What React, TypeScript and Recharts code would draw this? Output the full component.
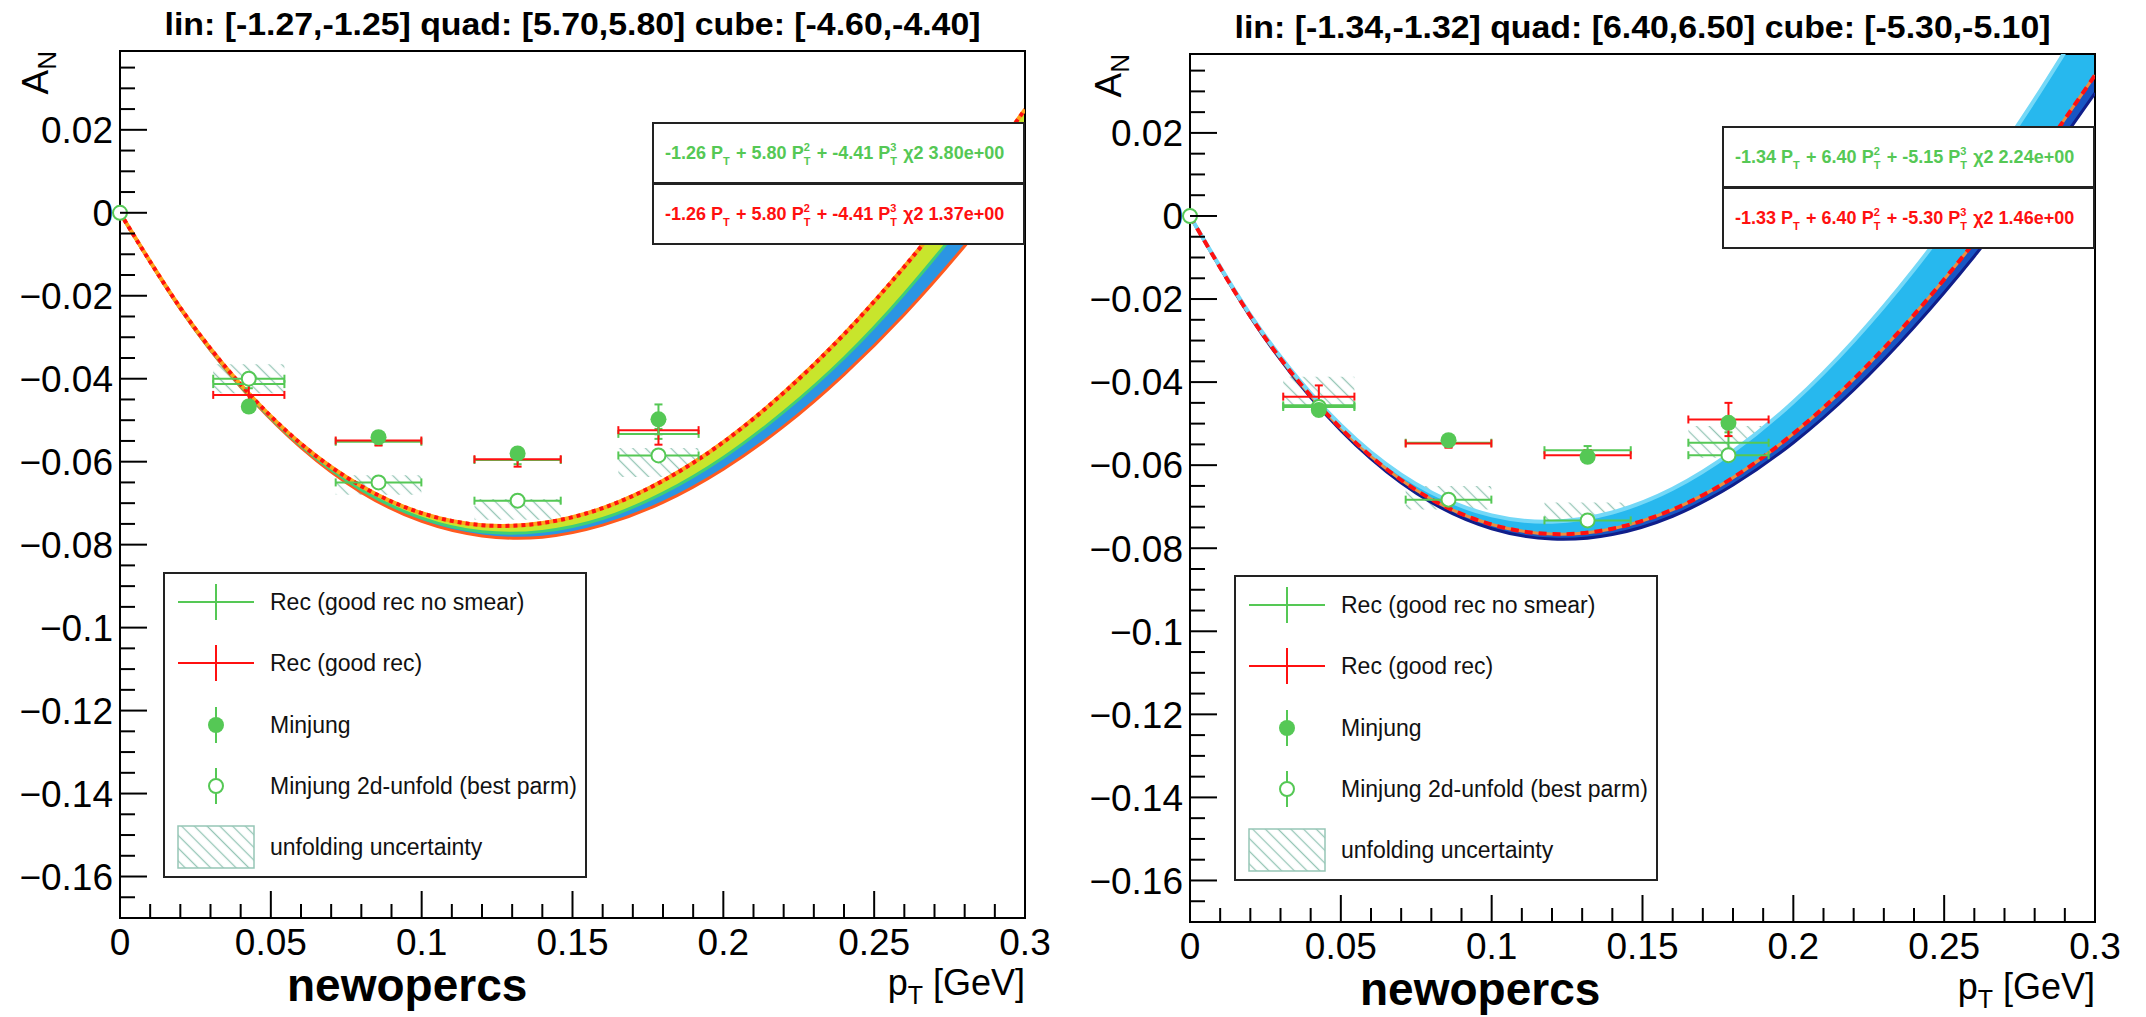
import React from 'react';
import {
  ComposedChart,
  Line,
  Area,
  Scatter,
  ErrorBar,
  XAxis,
  YAxis,
  ReferenceArea,
} from 'recharts';

const FONT = '"Liberation Sans", Arial, Helvetica, sans-serif';
const GREEN = '#55c855';
const RED = '#ff1010';
const HATCH = '#96c6b6';
const PAD_W = 1073;
const PAD_H = 1017;

const curveX = [0, 0.02, 0.04, 0.06, 0.08, 0.1, 0.12, 0.14, 0.16, 0.18, 0.2, 0.22, 0.24, 0.26, 0.28, 0.3];

// left pad: red fit (top of the band), colour split, lower edge
const fitLeft = [0, -0.0229, -0.0414, -0.0557, -0.0659, -0.0724, -0.0753, -0.0748, -0.0712, -0.0646, -0.0553, -0.0434, -0.0293, -0.013, 0.0051, 0.0249];
const splitLeft = [0, -0.0231, -0.0418, -0.0562, -0.0668, -0.0736, -0.0769, -0.0768, -0.0737, -0.0676, -0.059, -0.048, -0.035, -0.0195, -0.002, 0.016];
const lowLeft = [0, -0.0232, -0.042, -0.0566, -0.0674, -0.0744, -0.0779, -0.0782, -0.0753, -0.0698, -0.0618, -0.0515, -0.039, -0.0245, -0.008, 0.01];

// right pad: upper edge, red fit, lower edge
const highRight = [0, -0.0238, -0.0427, -0.0569, -0.0666, -0.0721, -0.0736, -0.0714, -0.0657, -0.0567, -0.0448, -0.0301, -0.0129, 0.0066, 0.028, 0.0513];
const fitRight = [0, -0.0241, -0.0433, -0.0579, -0.0682, -0.0743, -0.0766, -0.0753, -0.0707, -0.063, -0.0524, -0.0393, -0.0238, -0.0063, 0.013, 0.0339];
const lowRight = [0, -0.0243, -0.0437, -0.0585, -0.069, -0.0753, -0.0778, -0.0767, -0.0723, -0.0648, -0.0546, -0.0419, -0.0268, -0.0097, 0.0092, 0.0296];

// pT bins
const binX = [0.0427, 0.0857, 0.1318, 0.1785];
const binXErr = [0.0118, 0.0142, 0.0143, 0.0133];

// left pad points
const recNoSmearLeft = [-0.0413, -0.0552, -0.0596, -0.0533];
const recNoSmearErrLeft = [0.001, 0.0008, 0.001, 0.0012];
const recLeft = [-0.0439, -0.0549, -0.0594, -0.0524];
const recErrLeft = [0.0027, 0.0012, 0.0018, 0.0035];
const minjungLeft = [-0.0467, -0.0541, -0.058, -0.0498];
const minjungErrLeft = [0.0012, 0.001, 0.0012, 0.0036];
const unfoldLeft = [-0.04, -0.065, -0.0694, -0.0585];
const unfoldErrLeft = [0.0012, 0.0006, 0.0008, 0.0008];
const uncLowLeft = [-0.0435, -0.068, -0.074, -0.0637];
const uncHighLeft = [-0.0365, -0.0633, -0.069, -0.0567];

// right pad points
const recNoSmearRight = [-0.0456, -0.0546, -0.0564, -0.0546];
const recNoSmearErrRight = [0.001, 0.001, 0.001, 0.0025];
const recRight = [-0.0435, -0.0548, -0.0576, -0.049];
const recErrRight = [0.0027, 0.001, 0.0012, 0.004];
const minjungRight = [-0.0467, -0.054, -0.058, -0.0498];
const minjungErrRight = [0.0015, 0.001, 0.0012, 0.0012];
const unfoldRight = [-0.046, -0.0683, -0.0733, -0.0576];
const unfoldErrRight = [0.001, 0.0008, 0.0008, 0.001];
const uncLowRight = [-0.0462, -0.0707, -0.0743, -0.0582];
const uncHighRight = [-0.0387, -0.065, -0.069, -0.0506];

const xMajor = [0, 0.05, 0.1, 0.15, 0.2, 0.25, 0.3];
const xLabels = ['0', '0.05', '0.1', '0.15', '0.2', '0.25', '0.3'];
const yMajor = [-0.16, -0.14, -0.12, -0.1, -0.08, -0.06, -0.04, -0.02, 0, 0.02];
const yLabels = ['−0.16', '−0.14', '−0.12', '−0.1', '−0.08', '−0.06', '−0.04', '−0.02', '0', '0.02'];
// every tick position (majors included), minors get a short line and no label
const xTicks = Array.from({ length: 31 }, (_, i) => +(i * 0.01).toFixed(2));
const yTicks = Array.from({ length: 42 }, (_, i) => +(-0.17 + i * 0.005).toFixed(3));

const legendLabels = [
  'Rec (good rec no smear)',
  'Rec (good rec)',
  'Minjung',
  'Minjung 2d-unfold (best parm)',
  'unfolding uncertainty',
];

const X_DOMAIN = [0, 0.3];
const Y_DOMAIN = [-0.17, 0.039];

const majorIndex = (ticks: number[], v: number) => ticks.findIndex((t) => Math.abs(t - v) < 1e-9);

const YTick = (props: any) => {
  const { x, y, payload } = props;
  const i = majorIndex(yMajor, payload.value);
  return (
    <g>
      <line x1={x} x2={x + (i >= 0 ? 27 : 15)} y1={y} y2={y} stroke="#000" strokeWidth={2} />
      {i >= 0 && (
        <text x={x - 7} y={y} dy="0.36em" textAnchor="end" fontSize={37} fontFamily={FONT} fill="#000">
          {yLabels[i]}
        </text>
      )}
    </g>
  );
};

const XTick = (props: any) => {
  const { x, y, payload } = props;
  const i = majorIndex(xMajor, payload.value);
  return (
    <g>
      <line x1={x} x2={x} y1={y} y2={y - (i >= 0 ? 27 : 14)} stroke="#000" strokeWidth={2} />
      {i >= 0 && (
        <text x={x} y={y + 37} textAnchor="middle" fontSize={37} fontFamily={FONT} fill="#000">
          {xLabels[i]}
        </text>
      )}
    </g>
  );
};

const NoMark = () => <g />;
const FilledMark = (p: any) => <circle cx={p.cx} cy={p.cy} r={8} fill={GREEN} />;
const OpenMark = (p: any) => (
  <circle cx={p.cx} cy={p.cy} r={7} fill="#fff" stroke={GREEN} strokeWidth={2} />
);

const Pt = ({ exp }: { exp?: string }) => (
  <span style={{ position: 'relative', marginRight: 8 }}>
    P
    {exp && (
      <span style={{ position: 'absolute', left: '100%', top: -2, fontSize: 11 }}>{exp}</span>
    )}
    <span style={{ position: 'absolute', left: '100%', top: 12, fontSize: 11 }}>T</span>
  </span>
);

interface FitTerm {
  lin: string;
  quad: string;
  cube: string;
  chi2: string;
}

const FitBox = ({ top, left, color, t }: { top: number; left: number; color: string; t: FitTerm }) => (
  <div
    style={{
      position: 'absolute',
      left,
      top,
      width: 373,
      height: 62,
      boxSizing: 'border-box',
      border: '2px solid #222',
      background: '#fff',
      display: 'flex',
      alignItems: 'center',
      paddingLeft: 11,
      color,
      fontFamily: FONT,
      fontWeight: 'bold',
      fontSize: 18,
      whiteSpace: 'nowrap',
    }}
  >
    <span>
      {t.lin} <Pt /> + {t.quad} <Pt exp="2" /> + {t.cube} <Pt exp="3" /> χ2 {t.chi2}
    </span>
  </div>
);

interface PanelCfg {
  padX: number;
  frame: { l: number; t: number; r: number; b: number };
  title: string;
  top: number[];
  split: number[];
  bottom: number[];
  fit: number[];
  colors: { upper: string; lower: string; top: string; split: string; bottom: string };
  dash: string;
  recNoSmear: number[];
  recNoSmearErr: number[];
  rec: number[];
  recErr: number[];
  minjung: number[];
  minjungErr: number[];
  unfold: number[];
  unfoldErr: number[];
  uncLow: number[];
  uncHigh: number[];
  fitGreen: FitTerm;
  fitRed: FitTerm;
  legendPos: { x: number; y: number };
  boxTop: number;
}

function Legend({ x, y }: { x: number; y: number }) {
  const rows = [30, 91, 153, 214, 275];
  const cx = 53;
  return (
    <svg
      width={424}
      height={306}
      style={{ position: 'absolute', left: x, top: y, overflow: 'visible' }}
    >
      <rect x={1} y={1} width={422} height={304} fill="#fff" stroke="#222" strokeWidth={2} />
      <line x1={15} x2={91} y1={rows[0]} y2={rows[0]} stroke={GREEN} strokeWidth={2} />
      <line x1={cx} x2={cx} y1={rows[0] - 18} y2={rows[0] + 18} stroke={GREEN} strokeWidth={2} />
      <line x1={15} x2={91} y1={rows[1]} y2={rows[1]} stroke={RED} strokeWidth={2} />
      <line x1={cx} x2={cx} y1={rows[1] - 18} y2={rows[1] + 18} stroke={RED} strokeWidth={2} />
      <line x1={cx} x2={cx} y1={rows[2] - 18} y2={rows[2] + 18} stroke={GREEN} strokeWidth={2} />
      <circle cx={cx} cy={rows[2]} r={8} fill={GREEN} />
      <line x1={cx} x2={cx} y1={rows[3] - 18} y2={rows[3] - 7} stroke={GREEN} strokeWidth={2} />
      <line x1={cx} x2={cx} y1={rows[3] + 7} y2={rows[3] + 18} stroke={GREEN} strokeWidth={2} />
      <circle cx={cx} cy={rows[3]} r={7} fill="none" stroke={GREEN} strokeWidth={2} />
      <rect x={15} y={rows[4] - 21} width={76} height={42} fill="url(#hatch)" stroke={HATCH} strokeWidth={1.5} />
      {legendLabels.map((s, i) => (
        <text
          key={s}
          x={107}
          y={rows[i]}
          dy="0.35em"
          fontFamily={FONT}
          fontSize={23}
          fill="#111"
        >
          {s}
        </text>
      ))}
    </svg>
  );
}

function Panel({ cfg }: { cfg: PanelCfg }) {
  const f = cfg.frame;
  const rows = curveX.map((x, i) => ({
    x,
    top: cfg.top[i],
    split: cfg.split[i],
    bottom: cfg.bottom[i],
    fit: cfg.fit[i],
    upper: [cfg.split[i], cfg.top[i]],
    lower: [cfg.bottom[i], cfg.split[i]],
  }));
  const pts = (ys: number[], errs: number[]) =>
    binX.map((x, i) => ({ x, y: ys[i], ex: binXErr[i], ey: errs[i] }));
  const axisLine = { stroke: '#000', strokeWidth: 2 };

  return (
    <div style={{ position: 'absolute', left: cfg.padX, top: 0, width: PAD_W, height: PAD_H }}>
      <ComposedChart
        width={PAD_W}
        height={PAD_H}
        data={rows}
        margin={{ top: f.t, left: 0, right: PAD_W - f.r, bottom: 0 }}
      >
        <XAxis
          type="number"
          dataKey="x"
          domain={X_DOMAIN}
          allowDataOverflow
          ticks={xTicks}
          interval={0}
          tick={<XTick />}
          tickSize={0}
          tickMargin={0}
          tickLine={false}
          axisLine={axisLine}
          height={PAD_H - f.b}
        />
        <YAxis
          type="number"
          domain={Y_DOMAIN}
          allowDataOverflow
          ticks={yTicks}
          interval={0}
          tick={<YTick />}
          tickSize={0}
          tickMargin={0}
          tickLine={false}
          axisLine={axisLine}
          width={f.l}
        />
        {/* unclipped copies of the scales, for the marker sitting on the origin */}
        <XAxis xAxisId="free" type="number" dataKey="x" domain={X_DOMAIN} hide />
        <YAxis yAxisId="free" type="number" domain={Y_DOMAIN} hide />

        {binX.map((x, i) => (
          <ReferenceArea
            key={'unc' + i}
            x1={x - binXErr[i]}
            x2={x + binXErr[i]}
            y1={cfg.uncLow[i]}
            y2={cfg.uncHigh[i]}
            fill="url(#hatch)"
            fillOpacity={1}
            stroke="none"
          />
        ))}

        <Area dataKey="lower" type="natural" fill={cfg.colors.lower} fillOpacity={1} stroke="none" isAnimationActive={false} />
        <Area dataKey="upper" type="natural" fill={cfg.colors.upper} fillOpacity={1} stroke="none" isAnimationActive={false} />
        <Line dataKey="bottom" type="natural" stroke={cfg.colors.bottom} strokeWidth={3} dot={false} activeDot={false} isAnimationActive={false} />
        <Line dataKey="split" type="natural" stroke={cfg.colors.split} strokeWidth={3} dot={false} activeDot={false} isAnimationActive={false} />
        <Line dataKey="top" type="natural" stroke={cfg.colors.top} strokeWidth={4} dot={false} activeDot={false} isAnimationActive={false} />
        <Line dataKey="fit" type="natural" stroke={RED} strokeWidth={4} strokeDasharray={cfg.dash} dot={false} activeDot={false} isAnimationActive={false} />

        <Scatter data={pts(cfg.recNoSmear, cfg.recNoSmearErr)} dataKey="y" shape={NoMark} isAnimationActive={false}>
          <ErrorBar dataKey="ex" direction="x" width={4} stroke={GREEN} strokeWidth={2} isAnimationActive={false} />
          <ErrorBar dataKey="ey" direction="y" width={4} stroke={GREEN} strokeWidth={2} isAnimationActive={false} />
        </Scatter>
        <Scatter data={pts(cfg.rec, cfg.recErr)} dataKey="y" shape={NoMark} isAnimationActive={false}>
          <ErrorBar dataKey="ex" direction="x" width={4} stroke={RED} strokeWidth={2} isAnimationActive={false} />
          <ErrorBar dataKey="ey" direction="y" width={4} stroke={RED} strokeWidth={2} isAnimationActive={false} />
        </Scatter>
        <Scatter data={pts(cfg.unfold, cfg.unfoldErr)} dataKey="y" shape={OpenMark} isAnimationActive={false}>
          <ErrorBar dataKey="ex" direction="x" width={4} stroke={GREEN} strokeWidth={2} isAnimationActive={false} />
          <ErrorBar dataKey="ey" direction="y" width={4} stroke={GREEN} strokeWidth={2} isAnimationActive={false} />
        </Scatter>
        <Scatter data={pts(cfg.minjung, cfg.minjungErr)} dataKey="y" shape={FilledMark} isAnimationActive={false}>
          <ErrorBar dataKey="ey" direction="y" width={4} stroke={GREEN} strokeWidth={2} isAnimationActive={false} />
        </Scatter>
        <Scatter
          data={[{ x: 0, y: 0 }]}
          dataKey="y"
          xAxisId="free"
          yAxisId="free"
          shape={OpenMark}
          isAnimationActive={false}
        />

        <ReferenceArea
          x1={0}
          x2={0.3}
          y1={Y_DOMAIN[0]}
          y2={Y_DOMAIN[1]}
          fill="none"
          stroke="#000"
          strokeWidth={2}
          ifOverflow="visible"
        />
      </ComposedChart>

      <svg
        width={PAD_W}
        height={PAD_H}
        style={{ position: 'absolute', left: 0, top: 0, pointerEvents: 'none' }}
        fontFamily={FONT}
      >
        <text
          x={(f.l + f.r) / 2 - 408}
          y={f.t - 16}
          fontWeight="bold"
          fontSize={32}
          textLength={816}
          lengthAdjust="spacingAndGlyphs"
        >
          {cfg.title}
        </text>
        <text transform={`translate(48, ${f.t}) rotate(-90)`} textAnchor="end" fontSize={37}>
          A<tspan fontSize={26} dy={8}>N</tspan>
        </text>
        <text x={f.r} y={f.b + 77} textAnchor="end" fontSize={36}>
          p<tspan fontSize={25} dy={9}>T</tspan>
          <tspan dy={-9}>{'\u00a0[GeV]'}</tspan>
        </text>
        <text x={287} y={f.b + 83} fontSize={46} fontWeight="bold">
          newopercs
        </text>
      </svg>

      <FitBox top={cfg.boxTop} left={f.r - 373} color={GREEN} t={cfg.fitGreen} />
      <FitBox top={cfg.boxTop + 61} left={f.r - 373} color={RED} t={cfg.fitRed} />
      <Legend x={cfg.legendPos.x} y={cfg.legendPos.y} />
    </div>
  );
}

const leftPanel: PanelCfg = {
  padX: 0,
  frame: { l: 120, t: 51, r: 1025, b: 918 },
  title: 'lin: [-1.27,-1.25] quad: [5.70,5.80] cube: [-4.60,-4.40]',
  top: fitLeft,
  split: splitLeft,
  bottom: lowLeft,
  fit: fitLeft,
  colors: { upper: '#c8e52c', lower: '#2b95e3', top: '#ffa31a', split: '#3fcf76', bottom: '#ff5a1f' },
  dash: '4 4',
  recNoSmear: recNoSmearLeft,
  recNoSmearErr: recNoSmearErrLeft,
  rec: recLeft,
  recErr: recErrLeft,
  minjung: minjungLeft,
  minjungErr: minjungErrLeft,
  unfold: unfoldLeft,
  unfoldErr: unfoldErrLeft,
  uncLow: uncLowLeft,
  uncHigh: uncHighLeft,
  fitGreen: { lin: '-1.26', quad: '5.80', cube: '-4.41', chi2: '3.80e+00' },
  fitRed: { lin: '-1.26', quad: '5.80', cube: '-4.41', chi2: '1.37e+00' },
  legendPos: { x: 163, y: 572 },
  boxTop: 122,
};

const rightPanel: PanelCfg = {
  padX: 1073,
  frame: { l: 117, t: 54, r: 1022, b: 922 },
  title: 'lin: [-1.34,-1.32] quad: [6.40,6.50] cube: [-5.30,-5.10]',
  top: highRight,
  split: fitRight,
  bottom: lowRight,
  fit: fitRight,
  colors: { upper: '#27b8ee', lower: '#1856c4', top: '#74d8f7', split: '#f08a3c', bottom: '#101e8a' },
  dash: '8 6',
  recNoSmear: recNoSmearRight,
  recNoSmearErr: recNoSmearErrRight,
  rec: recRight,
  recErr: recErrRight,
  minjung: minjungRight,
  minjungErr: minjungErrRight,
  unfold: unfoldRight,
  unfoldErr: unfoldErrRight,
  uncLow: uncLowRight,
  uncHigh: uncHighRight,
  fitGreen: { lin: '-1.34', quad: '6.40', cube: '-5.15', chi2: '2.24e+00' },
  fitRed: { lin: '-1.33', quad: '6.40', cube: '-5.30', chi2: '1.46e+00' },
  legendPos: { x: 161, y: 575 },
  boxTop: 126,
};

export default function App() {
  return (
    <div
      style={{
        position: 'absolute',
        left: 0,
        top: 0,
        width: 2146,
        height: 1017,
        background: '#fff',
        fontFamily: FONT,
        overflow: 'hidden',
      }}
    >
      <svg width={0} height={0} style={{ position: 'absolute' }}>
        <defs>
          <pattern
            id="hatch"
            patternUnits="userSpaceOnUse"
            width={9}
            height={9}
            patternTransform="rotate(-45)"
          >
            <line x1={4.5} y1={0} x2={4.5} y2={9} stroke={HATCH} strokeWidth={1.3} />
          </pattern>
        </defs>
      </svg>
      <Panel cfg={leftPanel} />
      <Panel cfg={rightPanel} />
    </div>
  );
}
